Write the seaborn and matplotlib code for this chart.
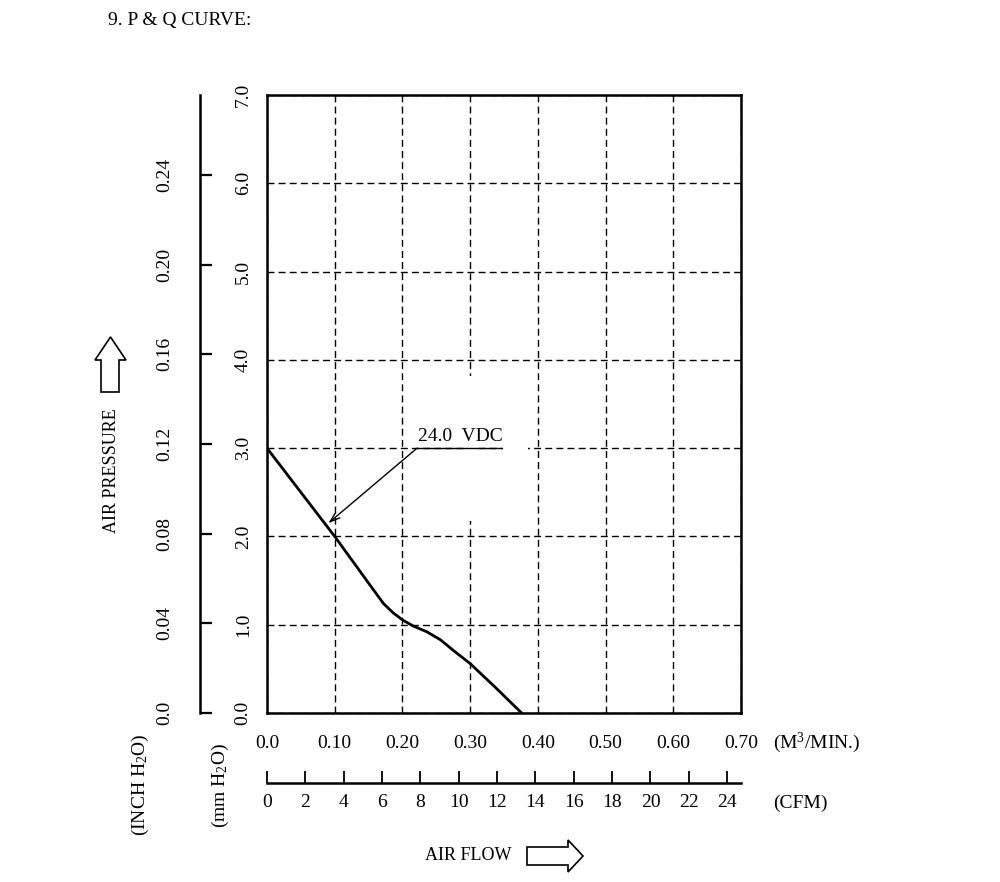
import matplotlib
matplotlib.use("Agg")
import matplotlib.pyplot as plt
import seaborn as sns
import pandas as pd
from matplotlib.patches import Polygon, Rectangle

# ---------------- data ----------------
flow_m3min = [0.0, 0.05, 0.10, 0.152, 0.172, 0.187, 0.201, 0.216, 0.236, 0.256, 0.275, 0.30, 0.34, 0.376]
pressure_mm = [3.0, 2.5, 2.0, 1.45, 1.24, 1.13, 1.05, 0.985, 0.92, 0.83, 0.71, 0.56, 0.27, 0.0]

x_ticks = [0.0, 0.10, 0.20, 0.30, 0.40, 0.50, 0.60, 0.70]
x_labels = ["0.0", "0.10", "0.20", "0.30", "0.40", "0.50", "0.60", "0.70"]
mm_ticks = [0.0, 1.0, 2.0, 3.0, 4.0, 5.0, 6.0, 7.0]
mm_labels = ["0.0", "1.0", "2.0", "3.0", "4.0", "5.0", "6.0", "7.0"]
inch_ticks = [0.0, 0.04, 0.08, 0.12, 0.16, 0.20, 0.24]
inch_labels = ["0.0", "0.04", "0.08", "0.12", "0.16", "0.20", "0.24"]
cfm_ticks = list(range(0, 25, 2))
cfm_labels = [str(v) for v in cfm_ticks]
series_label = "24.0  VDC"
M3MIN_TO_CFM = 35.3147
MM_PER_INCH = 25.4

# ---------------- style ----------------
sns.set_theme(style="white")
plt.rcParams['font.family'] = ['Liberation Serif', 'DejaVu Serif']
plt.rcParams['mathtext.fontset'] = 'custom'
plt.rcParams['mathtext.rm'] = 'Liberation Serif'
plt.rcParams['mathtext.it'] = 'Liberation Serif:italic'
plt.rcParams['mathtext.bf'] = 'Liberation Serif:bold'
FS = 14

W, H = 1000, 882
fig = plt.figure(figsize=(W / 100, H / 100), dpi=100)
fig.patch.set_facecolor("white")

def fx(px):
    return px / W

def fy(py):
    return 1 - py / H

L, R, T, B = 267, 741, 95, 713
ax = fig.add_axes([fx(L), fy(B), (R - L) / W, (B - T) / H])
ax.set_facecolor("white")

df = pd.DataFrame({"flow": flow_m3min, "pressure": pressure_mm})
sns.lineplot(data=df, x="flow", y="pressure", ax=ax, color="black", lw=2.0,
             sort=False, estimator=None, zorder=5)

ax.set_xlim(0, 0.70)
ax.set_ylim(0, 7.0)
ax.set_xlabel("")
ax.set_ylabel("")
ax.set_xticks(x_ticks)
ax.set_xticklabels(x_labels, fontsize=FS)
ax.set_yticks(mm_ticks)
ax.set_yticklabels(mm_labels, fontsize=FS, rotation=90, va="center")
ax.tick_params(axis="x", length=0, pad=16, colors="black")
ax.tick_params(axis="y", length=0, pad=11, colors="black")
for s in ax.spines.values():
    s.set_color("black")
    s.set_linewidth(1.8)
    s.set_visible(True)
    s.set_zorder(7)
ax.grid(True, color="black", lw=1.0, ls=(0, (5, 3)))
ax.set_axisbelow(True)

# small gaps in the dashed grid as in the reference
ax.add_patch(Rectangle((0.348, 2.95), 0.037, 0.1, facecolor="white", edgecolor="none", zorder=2))
ax.add_patch(Rectangle((0.29, 2.17), 0.02, 1.65, facecolor="white", edgecolor="none", zorder=2))

# annotation
ax.annotate("", xy=(0.0906, 2.15), xytext=(0.2216, 3.0),
            arrowprops=dict(arrowstyle="->,head_length=0.6,head_width=0.2", lw=1.0, color="black",
                            shrinkA=0, shrinkB=0), zorder=6)
ax.plot([0.2216, 0.347], [3.0, 3.0], color="black", lw=1.0, zorder=6)
ax.text(0.2235, 3.04, series_label, fontsize=FS, ha="left", va="bottom", color="black", zorder=6)

# inch H2O scale (left)
ax2 = ax.twinx()
for k in ("top", "bottom", "right"):
    ax2.spines[k].set_visible(False)
ax2.spines["left"].set_visible(True)
ax2.spines["left"].set_color("black")
ax2.spines["left"].set_linewidth(1.8)
ax2.spines["left"].set_position(("outward", (L - 200) * 0.72))
ax2.yaxis.tick_left()
ax2.set_ylim(0, 7.0 / MM_PER_INCH)
ax2.set_yticks(inch_ticks)
ax2.set_yticklabels(inch_labels, fontsize=FS, rotation=90, va="center")
ax2.tick_params(axis="y", direction="in", length=8.5, width=1.6, pad=19, colors="black",
                labelsize=FS, labelrotation=90)
ax2.grid(False)

# CFM scale (bottom)
sec = ax.secondary_xaxis(-(783 - B) / (B - T),
                         functions=(lambda x: x * M3MIN_TO_CFM, lambda c: c / M3MIN_TO_CFM))
sec.set_xticks(cfm_ticks)
sec.set_xticklabels(cfm_labels, fontsize=FS)
sec.tick_params(axis="x", direction="in", length=8.5, width=1.3, pad=8, colors="black")
sec.spines["bottom"].set_color("black")
sec.spines["bottom"].set_linewidth(1.8)

# texts
fig.text(fx(108), fy(20), "9. P & Q CURVE:", fontsize=FS, ha="left", va="center", color="black")
fig.text(fx(773), fy(743), "(M$^{3}$/MIN.)", fontsize=FS, ha="left", va="center", color="black")
fig.text(fx(773), fy(803), "(CFM)", fontsize=FS, ha="left", va="center", color="black")
fig.text(fx(140), fy(785), "(INCH H$_{2}$O)", fontsize=FS, ha="center", va="center", rotation=90, color="black")
fig.text(fx(220), fy(785), "(mm H$_{2}$O)", fontsize=FS, ha="center", va="center", rotation=90, color="black")
fig.text(fx(112), fy(471), "AIR PRESSURE", fontsize=FS - 1, ha="center", va="center", rotation=90, color="black")
fig.text(fx(468), fy(856), "AIR FLOW", fontsize=FS - 1, ha="center", va="center", color="black")

# hollow arrows
up = [(101, 392), (119, 392), (119, 360), (126, 360), (110.5, 337), (95, 360), (101, 360)]
fig.add_artist(Polygon([(fx(a), fy(b)) for a, b in up], closed=True, transform=fig.transFigure,
                       facecolor="white", edgecolor="black", lw=1.2))
right = [(527, 847), (568, 847), (568, 840), (583, 856), (568, 872), (568, 865), (527, 865)]
fig.add_artist(Polygon([(fx(a), fy(b)) for a, b in right], closed=True, transform=fig.transFigure,
                       facecolor="white", edgecolor="black", lw=1.2))

fig.savefig("out.png", dpi=100, facecolor="white")
